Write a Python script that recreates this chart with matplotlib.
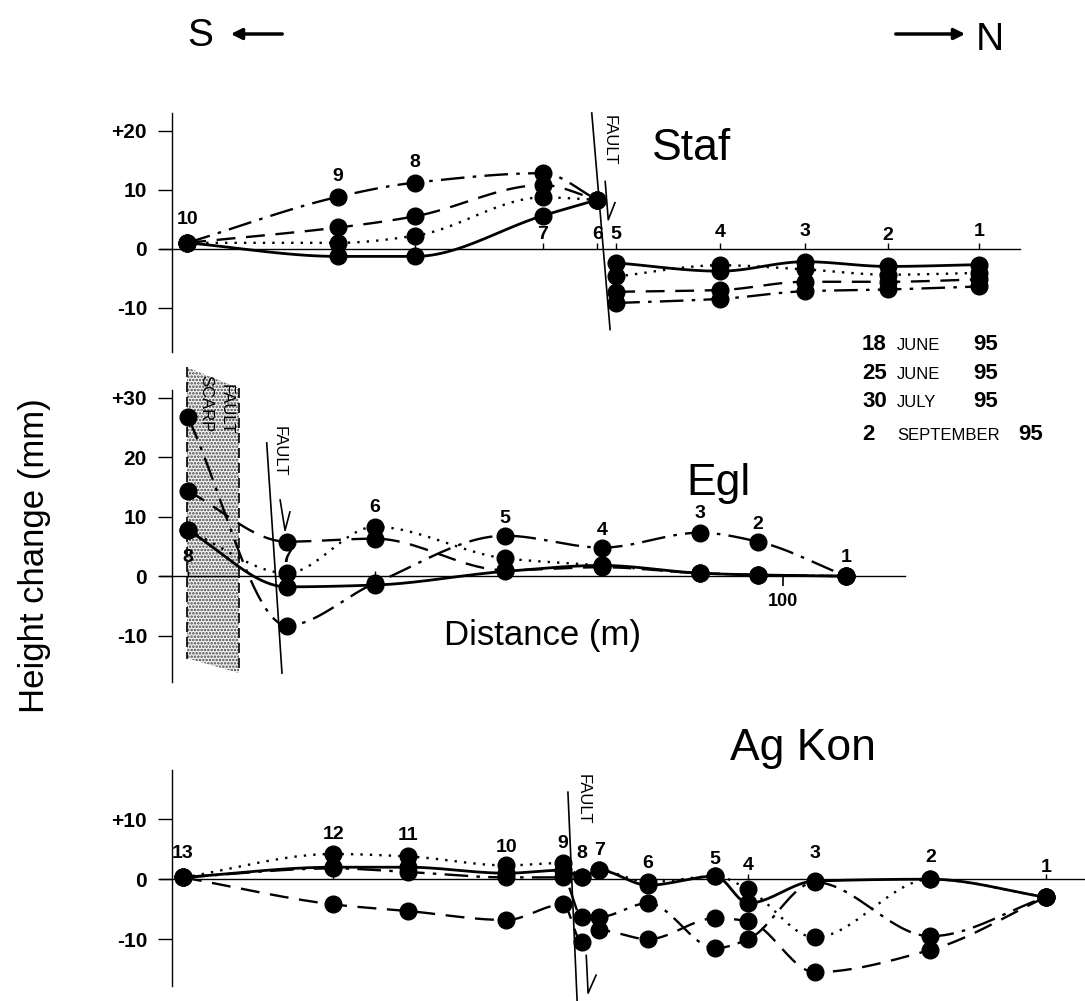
import numpy as np
import matplotlib
matplotlib.use("Agg")
import matplotlib.pyplot as plt
from matplotlib.patches import Polygon

plt.rcParams.update({
    "font.family": ["Liberation Sans", "DejaVu Sans"],
    "axes.linewidth": 1.0,
    "hatch.linewidth": 1.2,
})

# ── Data (distance along profile in m, height change in mm) ────────────────
DATES = ["18", "25", "30", "2"]
MONTHS = ["JUNE", "JUNE", "JULY", "SEPTEMBER"]
YEAR = "95"

# Staf: stations 10..6 south of fault, 5..1 north of fault
staf_left_ids = [10, 9, 8, 7, 6]
staf_left_x = [2.5, 27.2, 39.8, 60.7, 69.6]
staf_right_ids = [5, 4, 3, 2, 1]
staf_right_x = [72.7, 89.7, 103.6, 117.2, 132.1]
staf_left = {
    "jun18": [1.0, -1.3, -1.3, 5.6, 8.3],
    "jun25": [1.0, 1.0, 2.2, 8.7, 8.3],
    "jul30": [1.0, 3.6, 5.5, 10.8, 8.3],
    "sep02": [1.0, 8.8, 11.2, 12.8, 8.3],
}
staf_right = {
    "jun18": [-2.4, -3.8, -2.2, -3.0, -2.7],
    "jun25": [-4.7, -2.8, -3.5, -4.4, -4.1],
    "jul30": [-7.3, -7.0, -5.6, -5.6, -5.2],
    "sep02": [-9.2, -8.5, -7.2, -6.9, -6.4],
}
staf_label_y = [4.9, 12.2, 14.6, 2.4, 2.4, 2.4, 2.7, 2.9, 2.3, 2.9]

# Egl
egl_ids = [8, 7, 6, 5, 4, 3, 2, 1]
egl_x = [2.6, 18.8, 33.2, 54.5, 70.4, 86.4, 95.9, 110.3]
egl = {
    "jun18": [7.7, -1.8, -1.5, 0.8, 1.8, 0.5, 0.2, 0.0],
    "jun25": [7.7, 0.5, 8.3, 3.0, 1.8, 0.5, 0.2, 0.0],
    "jul30": [14.3, 5.8, 6.3, 1.0, 1.5, 0.5, 0.2, 0.0],
    "sep02": [26.7, -8.3, -1.2, 6.8, 4.8, 7.3, 5.8, 0.0],
}
egl_label_y = [3.2, 3.2, 11.6, 9.7, 7.7, 10.6, 8.6, 3.2]

# Ag Kon
agk_ids = [13, 12, 11, 10, 9, 8, 7, 6, 5, 4, 3, 2, 1]
agk_x = [1.8, 26.4, 38.6, 54.7, 64.0, 67.1, 69.9, 77.9, 88.9, 94.3, 105.2, 124.1, 143.0]
agk = {
    "jun18": [0.3, 2.0, 2.0, 1.0, 1.5, 0.3, 1.5, -1.0, 0.5, -4.0, -0.3, 0.0, -3.0],
    "jun25": [0.3, 4.2, 3.8, 2.3, 2.7, 0.3, 1.5, -0.5, 0.5, -1.7, -9.7, 0.0, -3.0],
    "jul30": [0.3, -4.2, -5.3, -6.8, -4.2, -10.5, -8.5, -10.0, -6.5, -7.0, -15.5, -11.8, -3.0],
    "sep02": [0.3, 1.8, 1.2, 0.3, 0.3, -6.3, -6.3, -4.0, -11.5, -10.0, -0.5, -9.5, -3.0],
}
agk_label_y = [4.3, 7.5, 7.2, 5.3, 6.0, 4.3, 4.8, 2.7, 3.2, 2.2, 4.3, 3.7, 2.0]

STYLE = {
    "jun18": dict(linestyle="-", linewidth=2.0),
    "jun25": dict(linestyle=(0, (1, 3)), linewidth=1.7),
    "jul30": dict(linestyle=(0, (8, 4.5)), linewidth=1.7),
    "sep02": dict(linestyle=(0, (10, 3.5, 1.5, 3.5)), linewidth=1.7),
}

# ── Layout ─────────────────────────────────────────────────────────────────
W, H = 1085, 1001
PX_PER_M = 6.11
AXIS_PX = 172
X_LEFT = -2.0

fig = plt.figure(figsize=(W / 100, H / 100), dpi=100)
ov = fig.add_axes([0, 0, 1, 1])
ov.set_xlim(0, W)
ov.set_ylim(H, 0)
ov.axis("off")


def smooth(x, y, n=24):
    """Monotone cubic curve through the measured points (hand-drawn look)."""
    x = np.asarray(x, float)
    y = np.asarray(y, float)
    d = np.diff(y) / np.diff(x)
    m = np.zeros_like(y)
    m[0], m[-1] = d[0], d[-1]
    for i in range(1, len(y) - 1):
        if d[i - 1] * d[i] > 0:
            m[i] = 2.0 / (1.0 / d[i - 1] + 1.0 / d[i])
    xs, ys = [], []
    t = np.linspace(0, 1, n, endpoint=False)
    for i in range(len(x) - 1):
        h = x[i + 1] - x[i]
        h00 = 2 * t**3 - 3 * t**2 + 1
        h10 = t**3 - 2 * t**2 + t
        h01 = -2 * t**3 + 3 * t**2
        h11 = t**3 - t**2
        xs.append(x[i] + t * h)
        ys.append(h00 * y[i] + h10 * h * m[i] + h01 * y[i + 1] + h11 * h * m[i + 1])
    xs.append([x[-1]])
    ys.append([y[-1]])
    return np.concatenate(xs), np.concatenate(ys)


def panel(top, bottom, xmax, ylim, yticks, ylabels):
    left_px = AXIS_PX + X_LEFT * PX_PER_M
    right_px = AXIS_PX + xmax * PX_PER_M
    ax = fig.add_axes([left_px / W, 1 - bottom / H,
                       (right_px - left_px) / W, (bottom - top) / H])
    ax.set_xlim(X_LEFT, xmax)
    ax.set_ylim(*ylim)
    ax.patch.set_visible(False)
    for s in ["top", "right"]:
        ax.spines[s].set_visible(False)
    ax.spines["left"].set_position(("data", 0))
    ax.spines["bottom"].set_position(("data", 0))
    ax.set_yticks(yticks)
    ax.set_yticklabels(ylabels, fontsize=15, fontweight="bold")
    ax.tick_params(axis="y", direction="out", length=10, width=1, pad=8)
    ax.set_xticks([])
    return ax


def draw_series(ax, x, series):
    for key, vals in series.items():
        xs, ys = smooth(x, vals)
        ax.plot(xs, ys, color="black", clip_on=False, zorder=3, **STYLE[key])
        ax.plot(x, vals, "o", ms=12, color="black", clip_on=False, zorder=4)


def station_labels(ax, x, ids, ly):
    ax.vlines(x, 0, 0.9, color="black", lw=1)
    for xi, n, yi in zip(x, ids, ly):
        ax.text(xi, yi, str(n), ha="center", va="center",
                fontsize=14, fontweight="bold")


def fault(ax, top, bottom, text_xy, arrow):
    ax.plot([top[0], bottom[0]], [top[1], bottom[1]], color="black",
            lw=1.2, clip_on=False, zorder=2)
    ax.text(*text_xy, "FAULT", rotation=-90, ha="center", va="center",
            fontsize=12, clip_on=False)
    (x0, y0), (x1, y1), (x2, y2) = arrow
    ax.plot([x0, x1, x2], [y0, y1, y2], color="black", lw=1.2, clip_on=False)


# ── Staf ───────────────────────────────────────────────────────────────────
ax1 = panel(113, 352, 138.8, (-17.5, 23.0), [20, 10, 0, -10],
            ["+20", "10", "0", "-10"])
draw_series(ax1, staf_left_x, staf_left)
draw_series(ax1, staf_right_x, staf_right)
station_labels(ax1, staf_left_x + staf_right_x, staf_left_ids + staf_right_ids,
               staf_label_y)
fault(ax1, (68.7, 23.0), (71.7, -13.7), (71.6, 18.3),
      [(70.9, 11.4), (71.4, 4.9), (72.5, 7.8)])

# ── Egl ────────────────────────────────────────────────────────────────────
ax2 = panel(390, 682, 120.0, (-17.8, 31.3), [30, 20, 10, 0, -10],
            ["+30", "20", "10", "0", "-10"])
scarp = Polygon([(2.45, 35.1), (10.97, 31.6), (10.97, -16.3), (2.45, -13.8)],
                closed=True, facecolor="#f2f2f2", edgecolor="#444444",
                hatch=".....", linewidth=0, clip_on=False, zorder=1)
ax2.add_patch(scarp)
ax2.plot([2.45, 2.45], [35.1, -14.0], color="black", lw=1.2,
         linestyle=(0, (6, 3)), clip_on=False, zorder=2)
ax2.plot([10.97, 10.97], [31.6, -16.3], color="black", lw=1.2,
         linestyle=(0, (6, 3)), clip_on=False, zorder=2)
ax2.text(5.6, 29.0, "SCARP", rotation=-90, ha="center", va="center",
         fontsize=12, zorder=2)
ax2.text(8.9, 28.0, "FAULT", rotation=-90, ha="center", va="center",
         fontsize=12, zorder=2)
draw_series(ax2, egl_x, egl)
station_labels(ax2, egl_x, egl_ids, egl_label_y)
ax2.set_xticks([100])
ax2.set_xticklabels(["100"], fontsize=13, fontweight="bold")
ax2.tick_params(axis="x", direction="out", length=7, width=1.2, pad=5)
fault(ax2, (15.5, 22.4), (18.0, -16.3), (17.6, 21.0),
      [(17.7, 12.8), (18.5, 7.7), (19.3, 10.8)])

# ── Ag Kon ─────────────────────────────────────────────────────────────────
ax3 = panel(770, 986, 149.4, (-17.8, 18.2), [10, 0, -10],
            ["+10", "0", "-10"])
draw_series(ax3, agk_x, agk)
station_labels(ax3, agk_x, agk_ids, agk_label_y)
fault(ax3, (64.8, 14.5), (66.3, -20.2), (67.3, 13.3),
      [(67.8, -12.7), (68.1, -19.0), (69.4, -16.0)])

# ── Titles, axis labels, legend, orientation ───────────────────────────────
ov.text(692, 160, "Staf", fontsize=32, ha="center", va="baseline")
ov.text(718, 495, "Egl", fontsize=32, ha="center", va="baseline")
ov.text(803, 760, "Ag Kon", fontsize=32, ha="center", va="baseline")
ov.text(542, 645, "Distance (m)", fontsize=25, ha="center", va="baseline")
ov.text(35, 556, "Height change (mm)", fontsize=25, rotation=90,
        ha="center", va="center")

rows_y = [350, 379, 407, 440]
year_x = [973, 973, 973, 1018]
for d, mth, yb, yx in zip(DATES, MONTHS, rows_y, year_x):
    ov.text(862, yb, d, fontsize=16, fontweight="bold", va="baseline")
    ov.text(897, yb, mth, fontsize=12, va="baseline")
    ov.text(yx, yb, YEAR, fontsize=16, fontweight="bold", va="baseline")

ov.text(200, 36, "S", fontsize=28, ha="center", va="center",
        family=["Liberation Sans Narrow", "Liberation Sans"])
ov.annotate("", xy=(228, 34), xytext=(285, 34),
            arrowprops=dict(arrowstyle="-|>", lw=2.5, color="black",
                            mutation_scale=16))
ov.text(990, 40, "N", fontsize=28, ha="center", va="center",
        family=["Liberation Sans Narrow", "Liberation Sans"])
ov.annotate("", xy=(968, 34), xytext=(893, 34),
            arrowprops=dict(arrowstyle="-|>", lw=2.5, color="black",
                            mutation_scale=16))

fig.savefig("out.png", dpi=100)
